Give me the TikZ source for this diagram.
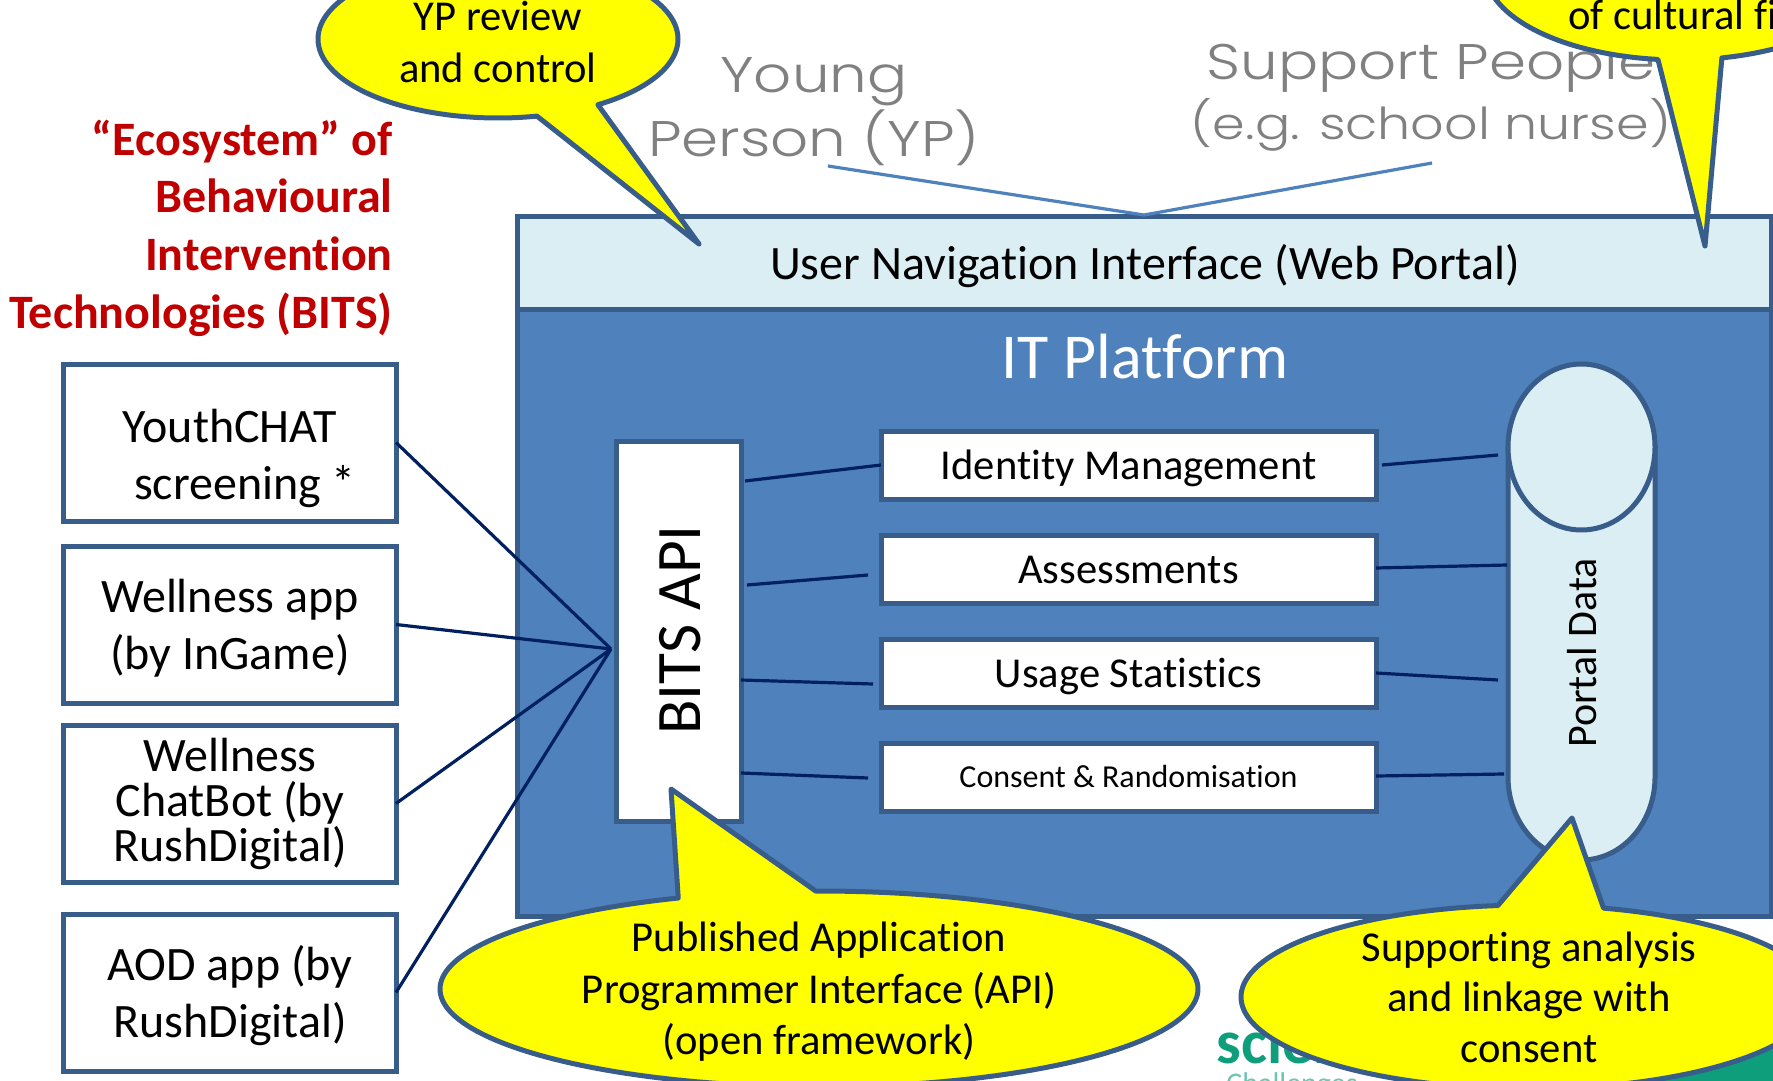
\documentclass[tikz,border=0pt]{standalone}
\usepackage{fontspec}
\setmainfont[RawFeature={-liga}]{Carlito}
\newfontfamily\grayfont{Poppins Light}
\definecolor{edgeblue}{HTML}{385D8A}
\definecolor{platform}{HTML}{4F81BD}
\definecolor{paleblue}{HTML}{DBEEF4}
\definecolor{navy}{HTML}{002060}
\definecolor{redtitle}{HTML}{C00000}
\definecolor{teal1}{HTML}{0F9E7B}
\definecolor{calloutyellow}{RGB}{255,255,0}
\definecolor{headgray}{RGB}{128,128,128}
\newcommand\ellpts[6]{plot[domain=#5:#6,samples=200,variable=\t] ({#1+#3*cos(\t)},{#2+#4*sin(\t)})}
\tikzset{
  x=0.5pt,y=-0.5pt,
  panel/.style={draw=edgeblue,line width=2.5pt,inner sep=0pt,outer sep=0pt,anchor=north west},
  appbox/.style={panel,fill=white,minimum width=166.5pt,minimum height=78.5pt},
  apptext/.style={align=center,inner sep=0pt,font=\fontsize{24}{28.8}\selectfont},
  modbox/.style={panel,fill=white,minimum width=247.5pt,minimum height=34pt,text height=19pt,text depth=4.3pt,font=\fontsize{21.3}{24}\selectfont},
  link/.style={navy,line width=1.6pt},
  feed/.style={platform,line width=1.6pt},
  bubble/.style={fill=calloutyellow,draw=edgeblue,line width=2.5pt,line join=round},
  bubbletext/.style={align=center,inner sep=0pt,font=\fontsize{21.3}{25.7}\selectfont},
  graytext/.style={headgray,align=center,inner sep=0pt,xscale=1.19}
}
\begin{document}
\begin{tikzpicture}
\useasboundingbox (0,0) rectangle (1773,1081);
\clip (0,0) rectangle (1773,1081);
% logo behind the callouts
\fill[teal1] (1600,1030) rectangle (1773,1081);
\node[teal1,font=\bfseries\fontsize{31}{31}\selectfont,anchor=base west,inner sep=0pt] (logo) at (1216,1063) {science};
\node[teal1!60,font=\fontsize{15}{15}\selectfont,anchor=base west,inner sep=0pt] (logo2) at (1226,1093) {Challenges};
% platform
\node[panel,fill=platform,minimum width=627pt,minimum height=350pt] (platform) at (517,216) {};
\node[panel,fill=paleblue,minimum width=627pt,minimum height=46.5pt] (portal) at (517,216) {};
\node[font=\fontsize{24}{28}\selectfont,inner sep=0pt] (portaltext) at (1145,266) {User Navigation Interface (Web Portal)};
\node[white,font=\fontsize{32}{36}\selectfont,inner sep=0pt] (ittext) at (1145,357) {IT Platform};
% gray headings
\node[graytext,font=\grayfont\fontsize{25}{32}\selectfont] (yp) at (814,112) {Young\\Person (YP)};
\node[graytext,font=\grayfont\fontsize{25}{32}\selectfont] (sp) at (1431,67) {Support People};
\node[graytext,font=\grayfont\fontsize{22}{26}\selectfont] (sp2) at (1431,125) {(e.g. school nurse)};
\coordinate (ypend) at (828,166);
\coordinate (spend) at (1432,163);
\coordinate (joint) at (1144,215);
\draw[feed] (ypend) -- (joint) -- (spend);
% API
\node[panel,fill=white,minimum width=62.5pt,minimum height=190pt] (api) at (616,441) {};
\node[rotate=90,font=\fontsize{31.7}{34}\selectfont,inner sep=0pt] (apitext) at (680,630) {BITS API};
% modules
\node[modbox] (m1) at (881,431) {Identity Management};
\node[modbox] (m2) at (881,535) {Assessments};
\node[modbox] (m3) at (881,639) {Usage Statistics};
\node[modbox,text height=14pt,text depth=4pt,font=\fontsize{16}{20}\selectfont] (m4) at (881,743) {Consent \& Randomisation};
% cylinder
\path[fill=paleblue,draw=edgeblue,line width=2.5pt] \ellpts{1581.5}{777}{73.5}{83}{0}{180} -- (1508,447) -- (1655,447) -- cycle;
\path[fill=paleblue,draw=edgeblue,line width=2.5pt] \ellpts{1581.5}{447}{73.5}{83}{0}{360} -- cycle;
\node[rotate=90,font=\fontsize{21}{24}\selectfont,inner sep=0pt] (data) at (1582,653) {Portal Data};
% connectors
\coordinate (hub) at (611,649);
\coordinate (a1) at (745,481); \coordinate (b1) at (881,465);
\coordinate (a2) at (747,585); \coordinate (b2) at (868,575);
\coordinate (a3) at (741,680); \coordinate (b3) at (873,684);
\coordinate (a4) at (741,773); \coordinate (b4) at (868,778);
\draw[link] (a1) -- (b1); \draw[link] (a2) -- (b2); \draw[link] (a3) -- (b3); \draw[link] (a4) -- (b4);
\coordinate (c1) at (1382,465); \coordinate (d1) at (1498,455);
\coordinate (c2) at (1376,568); \coordinate (d2) at (1507,565);
\coordinate (c3) at (1376,673); \coordinate (d3) at (1498,680);
\coordinate (c4) at (1376,776); \coordinate (d4) at (1504,774);
\draw[link] (c1) -- (d1); \draw[link] (c2) -- (d2); \draw[link] (c3) -- (d3); \draw[link] (c4) -- (d4);
% apps
\node[appbox] (app1) at (63,364) {};
\node[appbox] (app2) at (63,546) {};
\node[appbox] (app3) at (63,725) {};
\node[appbox] (app4) at (63,914) {};
\node[apptext] (app1text) at (230,458.5) {YouthCHAT\\\hspace*{15pt}screening *};
\node[apptext] (app2text) at (230,628) {Wellness app\\(by InGame)};
\node[apptext,font=\fontsize{24}{22.7}\selectfont] (app3text) at (230,804) {Wellness\\ChatBot (by\\RushDigital)};
\node[apptext] (app4text) at (230,995.5) {AOD app (by\\RushDigital)};
\draw[link] (app1.east) -- (hub);
\draw[link] (app2.east) -- (hub);
\draw[link] (app3.east) -- (hub);
\draw[link] (app4.east) -- (hub);
% title
\node[redtitle,align=right,anchor=east,inner sep=0pt,font=\bfseries\fontsize{24}{28.8}\selectfont] (title) at (393,228) {“Ecosystem” of\\Behavioural\\Intervention\\Technologies (BITS)};
% callouts
\coordinate (t1) at (699,244);
\path[bubble] \ellpts{498}{39}{180}{79}{56.3}{-282.5} -- (t1) -- cycle;
\node[bubbletext,font=\fontsize{21.3}{26}\selectfont] (t1text) at (498,42) {YP review\\and control};
\coordinate (t2) at (1705,246);
\path[bubble] \ellpts{1680}{-30}{195}{90}{77.6}{-263.5} -- (t2) -- cycle;
\node[bubbletext,anchor=base west,font=\fontsize{21.3}{26}\selectfont] (t2text) at (1568,30) {of cultural fi};
\coordinate (t3) at (671,789);
\path[bubble] \ellpts{819}{989}{379}{98}{-90.5}{248.2} -- (t3) -- cycle;
\node[bubbletext] (t3text) at (819,992) {Published Application\\Programmer Interface (API)\\(open framework)};
\coordinate (t4) at (1572,818);
\path[bubble] \ellpts{1529}{997}{288}{92}{-75}{263.8} -- (t4) -- cycle;
\node[bubbletext,font=\fontsize{21.3}{25.3}\selectfont] (t4text) at (1529,997) {Supporting analysis\\and linkage with\\consent};
\end{tikzpicture}
\end{document}
